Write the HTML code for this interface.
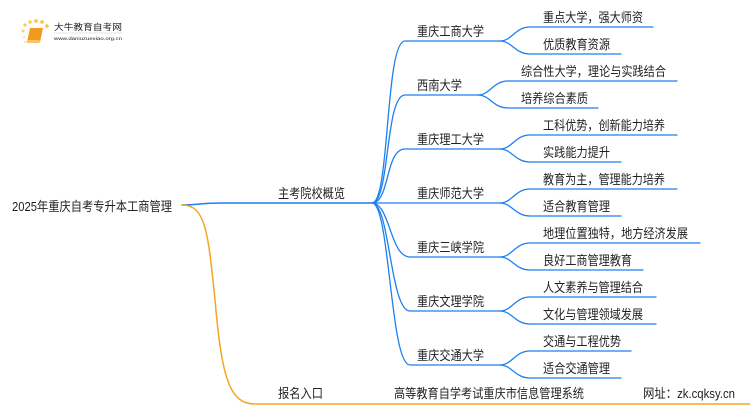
<!DOCTYPE html>
<html><head><meta charset="utf-8"><style>
html,body{margin:0;padding:0;background:#fff;width:750px;height:410px;overflow:hidden}
text{font-family:"Liberation Sans","Noto Sans CJK SC",sans-serif;fill:#222;font-size:13px}
</style></head><body>
<svg width="750" height="410" viewBox="0 0 750 410" xmlns="http://www.w3.org/2000/svg">
<g>
<circle cx="23" cy="31" r="1.5" fill="#fbd36b"/><circle cx="25" cy="25" r="1.6" fill="#fbc94e"/><circle cx="30" cy="22" r="1.7" fill="#fbc94e"/><circle cx="36" cy="21" r="1.8" fill="#f9c23c"/><circle cx="42" cy="22" r="1.8" fill="#f9c23c"/><circle cx="47" cy="26" r="1.8" fill="#f9c23c"/><circle cx="24" cy="37" r="1.3" fill="#fde3a0"/><circle cx="25" cy="42" r="1.2" fill="#fde3a0"/>
<path d="M30 28 L43 28 L40 42 L27 42 Z" fill="#f39a1e"/>
<path d="M28 40 L40 40 L39 43 L27 43 Z" fill="#f8c46a"/>
<text x="54" y="30" style="font-size:8.5px" fill="#333" textLength="68" lengthAdjust="spacingAndGlyphs">大牛教育自考网</text>
<line x1="54" y1="33" x2="122" y2="33" stroke="#ccc" stroke-width="0.5"/>
<text x="54" y="40" style="font-size:4.5px" fill="#666" textLength="68" lengthAdjust="spacingAndGlyphs">www.daniuzuexiao.org.cn</text>
</g>
<g fill="none" stroke-linecap="round">
<path d="M182 205 C200 205 200 203 220 203 H372" stroke="#1e7ff0" stroke-width="1.5"/>
<path d="M182 205 C205 205 208 230 215 300 C222 380 230 404 255 404 H750" stroke="#f5a623" stroke-width="1.5"/>
<g stroke="#1e7ff0" stroke-width="1.3">
<path d="M372 203 C390 203 385 41 405 41 H500"/>
<path d="M372 203 C390 203 385 95 405 95 H478"/>
<path d="M372 203 C390 203 385 149 405 149 H500"/>
<path d="M372 203 H500"/>
<path d="M372 203 C390 203 390 257 410 257 H500"/>
<path d="M372 203 C390 203 390 311 410 311 H500"/>
<path d="M372 203 C390 203 390 365 410 365 H500"/>
<path d="M500 41 C512 41 515 27 530 27 H653"/>
<path d="M500 41 C512 41 515 54 530 54 H621"/>
<path d="M478 95 C490 95 493 81 508 81 H677"/>
<path d="M478 95 C490 95 493 108 508 108 H598"/>
<path d="M500 149 C512 149 515 135 530 135 H677"/>
<path d="M500 149 C512 149 515 162 530 162 H621"/>
<path d="M500 203 C512 203 515 189 530 189 H677"/>
<path d="M500 203 C512 203 515 216 530 216 H621"/>
<path d="M500 257 C512 257 515 243 530 243 H700"/>
<path d="M500 257 C512 257 515 270 530 270 H643"/>
<path d="M500 311 C512 311 515 297 530 297 H656"/>
<path d="M500 311 C512 311 515 324 530 324 H656"/>
<path d="M500 365 C512 365 515 351 530 351 H631"/>
<path d="M500 365 C512 365 515 378 530 378 H621"/>
</g>
</g>
<text x="12" y="211" textLength="160" lengthAdjust="spacingAndGlyphs">2025年重庆自考专升本工商管理</text>
<text x="278" y="198" textLength="67" lengthAdjust="spacingAndGlyphs">主考院校概览</text>
<text x="278" y="398" textLength="45" lengthAdjust="spacingAndGlyphs">报名入口</text>
<text x="394" y="398" textLength="190" lengthAdjust="spacingAndGlyphs">高等教育自学考试重庆市信息管理系统</text>
<text x="643" y="398" textLength="92" lengthAdjust="spacingAndGlyphs">网址：zk.cqksy.cn</text>
<text x="417" y="36" textLength="67" lengthAdjust="spacingAndGlyphs">重庆工商大学</text>
<text x="417" y="90" textLength="45" lengthAdjust="spacingAndGlyphs">西南大学</text>
<text x="417" y="144" textLength="67" lengthAdjust="spacingAndGlyphs">重庆理工大学</text>
<text x="417" y="198" textLength="67" lengthAdjust="spacingAndGlyphs">重庆师范大学</text>
<text x="417" y="252" textLength="67" lengthAdjust="spacingAndGlyphs">重庆三峡学院</text>
<text x="417" y="306" textLength="67" lengthAdjust="spacingAndGlyphs">重庆文理学院</text>
<text x="417" y="360" textLength="67" lengthAdjust="spacingAndGlyphs">重庆交通大学</text>
<text x="543" y="22" textLength="100" lengthAdjust="spacingAndGlyphs">重点大学，强大师资</text>
<text x="543" y="49" textLength="67" lengthAdjust="spacingAndGlyphs">优质教育资源</text>
<text x="521" y="76" textLength="145" lengthAdjust="spacingAndGlyphs">综合性大学，理论与实践结合</text>
<text x="521" y="103" textLength="67" lengthAdjust="spacingAndGlyphs">培养综合素质</text>
<text x="543" y="130" textLength="122" lengthAdjust="spacingAndGlyphs">工科优势，创新能力培养</text>
<text x="543" y="157" textLength="67" lengthAdjust="spacingAndGlyphs">实践能力提升</text>
<text x="543" y="184" textLength="122" lengthAdjust="spacingAndGlyphs">教育为主，管理能力培养</text>
<text x="543" y="211" textLength="67" lengthAdjust="spacingAndGlyphs">适合教育管理</text>
<text x="543" y="238" textLength="145" lengthAdjust="spacingAndGlyphs">地理位置独特，地方经济发展</text>
<text x="543" y="265" textLength="89" lengthAdjust="spacingAndGlyphs">良好工商管理教育</text>
<text x="543" y="292" textLength="100" lengthAdjust="spacingAndGlyphs">人文素养与管理结合</text>
<text x="543" y="319" textLength="100" lengthAdjust="spacingAndGlyphs">文化与管理领域发展</text>
<text x="543" y="346" textLength="78" lengthAdjust="spacingAndGlyphs">交通与工程优势</text>
<text x="543" y="373" textLength="67" lengthAdjust="spacingAndGlyphs">适合交通管理</text>
</svg>
</body></html>
